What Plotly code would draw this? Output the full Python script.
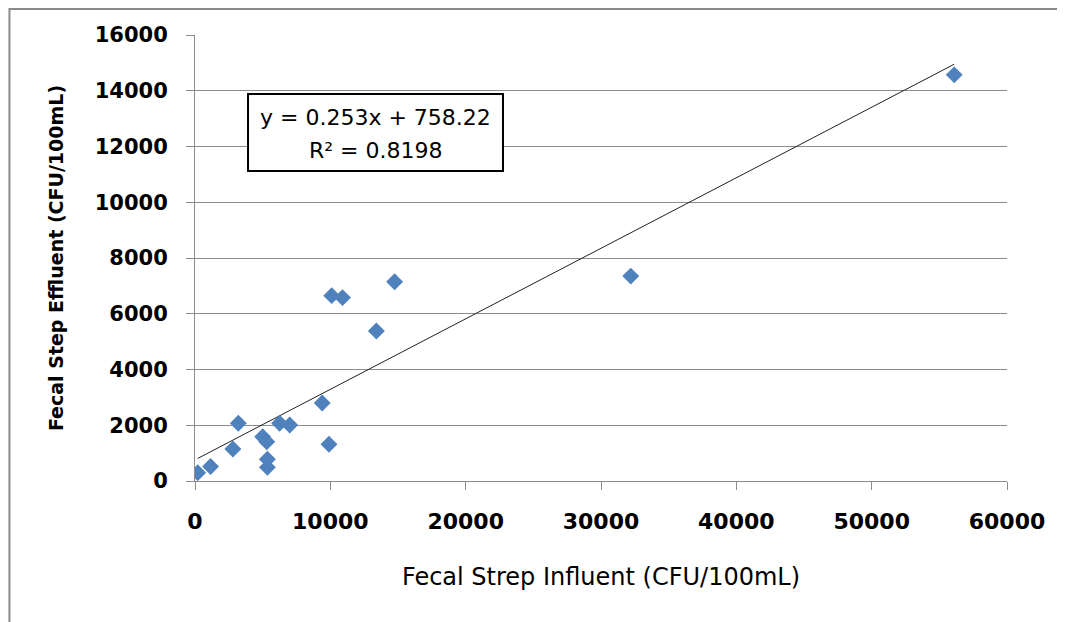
import plotly.graph_objects as go

# influent vs effluent (CFU/100mL)
influent = [200, 1150, 2800, 3200, 5000, 5300, 5350, 5350, 6250, 7000,
            9400, 9900, 10100, 10900, 13400, 14750, 32200, 56100]
effluent = [300, 520, 1150, 2070, 1590, 1410, 780, 490, 2070, 2010,
            2800, 1320, 6650, 6580, 5380, 7150, 7350, 14570]

# linear trendline as printed on the chart
slope = 0.253
intercept = 758.22
r2 = 0.8198

x_ticks = [0, 10000, 20000, 30000, 40000, 50000, 60000]
y_ticks = [0, 2000, 4000, 6000, 8000, 10000, 12000, 14000, 16000]

FONT = "DejaVu Sans"
GRID = "#8c8c8c"

fig = go.Figure()

x_line = [min(influent), max(influent)]
fig.add_trace(go.Scatter(
    x=x_line,
    y=[slope * v + intercept for v in x_line],
    mode="lines",
    line=dict(color="#222222", width=1),
    hoverinfo="skip",
    showlegend=False,
))

fig.add_trace(go.Scatter(
    x=influent,
    y=effluent,
    mode="markers",
    marker=dict(symbol="diamond", size=13, color="#4F81BD"),
    showlegend=False,
))

# equation box
fig.add_shape(
    type="rect", xref="paper", yref="paper",
    x0=0.0653, x1=0.3793, y0=0.695, y1=0.8677,
    line=dict(color="black", width=2), fillcolor="white", layer="above",
)
fig.add_annotation(
    xref="paper", yref="paper", x=0.2223, y=0.814,
    xanchor="center", yanchor="middle",
    text=f"y = {slope}x + {intercept}", showarrow=False,
    font=dict(family=FONT, size=22, color="black"),
)
fig.add_annotation(
    xref="paper", yref="paper", x=0.2223, y=0.740,
    xanchor="center", yanchor="middle",
    text=f"R² = {r2}", showarrow=False,
    font=dict(family=FONT, size=22, color="black"),
)

# outer chart border (only left and top edges fall inside the page)
fig.add_shape(
    type="rect", xref="paper", yref="paper",
    x0=-0.2285, x1=1.1, y0=-0.6, y1=1.0583,
    line=dict(color="#8a8a8a", width=2), layer="below",
)

fig.update_xaxes(
    range=[0, 60000],
    tickvals=x_ticks,
    ticktext=[str(v) for v in x_ticks],
    showgrid=False,
    zeroline=False,
    showline=True, linecolor=GRID, linewidth=1,
    ticks="outside", ticklen=8, tickcolor=GRID,
    ticklabelstandoff=13,
    tickfont=dict(family=FONT, size=22, color="black", weight="bold"),
    title=dict(text="Fecal Strep Influent (CFU/100mL)", standoff=34,
               font=dict(family=FONT, size=24, color="black")),
)
fig.update_yaxes(
    range=[0, 16000],
    tickvals=y_ticks,
    ticktext=[str(v) for v in y_ticks],
    showgrid=True, gridcolor=GRID, gridwidth=1,
    zeroline=False,
    showline=True, linecolor=GRID, linewidth=1,
    ticks="outside", ticklen=8, tickcolor=GRID,
    ticklabelstandoff=14,
    tickfont=dict(family=FONT, size=21, color="black", weight="bold"),
    title=dict(text="<b>Fecal Step Effluent (CFU/100mL)</b>", standoff=26,
               font=dict(family=FONT, size=19, color="black")),
)

# page body has an 8px margin, so margins are shifted to keep the plot area in place
fig.update_layout(
    width=1065, height=622,
    margin=dict(l=187, r=66, t=27, b=149),
    paper_bgcolor="white", plot_bgcolor="white",
    font=dict(family=FONT),
)

fig.write_html("out.html")
